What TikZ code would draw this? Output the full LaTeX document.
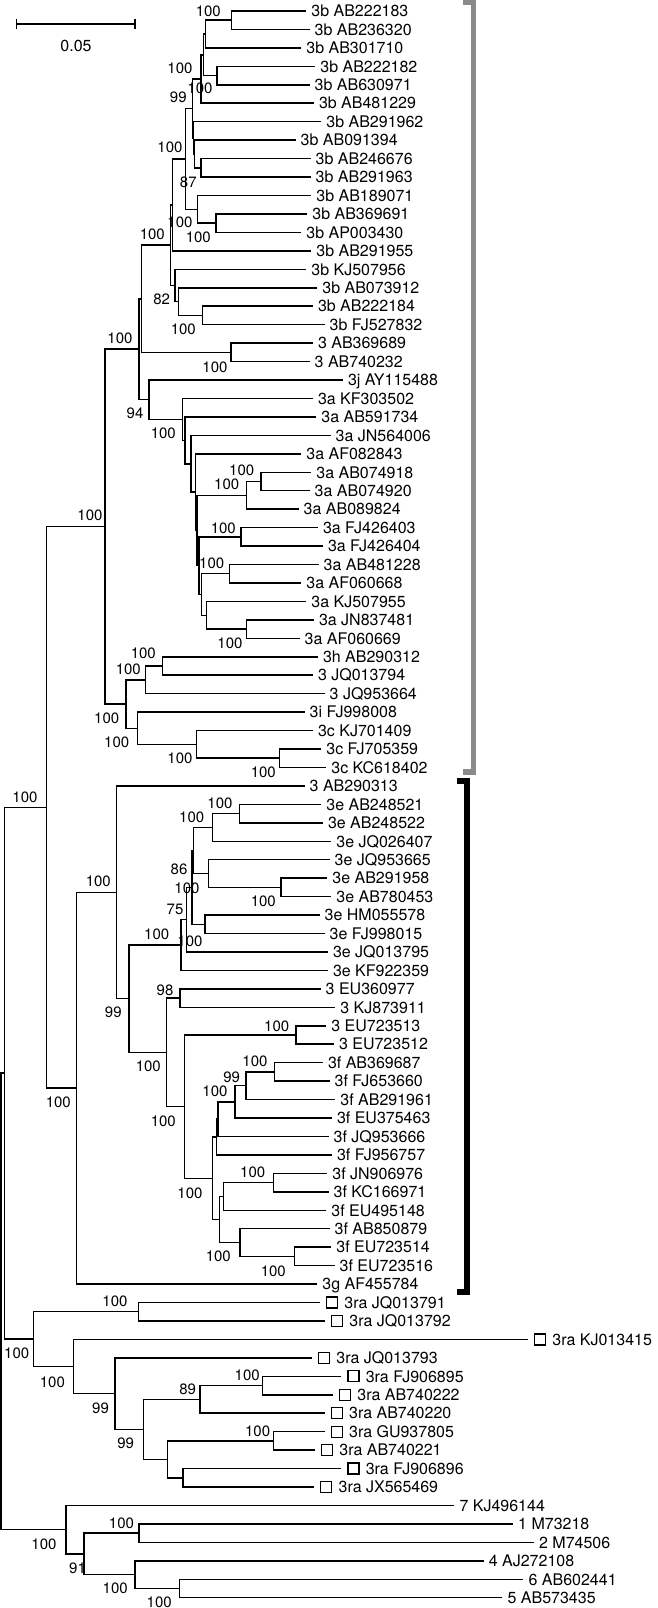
\documentclass[tikz,border=0pt]{standalone}
\usepackage{fontspec}
\setmainfont{TeX Gyre Heros}
\setsansfont{TeX Gyre Heros}
\usepackage{tikz}
\usetikzlibrary{positioning}
\definecolor{cladegrey}{HTML}{8A8A8A}

\begin{document}
\begin{tikzpicture}[x=1pt,y=-1pt,font=\sffamily,
  branch/.style={line width=1.5pt},
  taxon/.style={anchor=west,inner xsep=5pt,inner ysep=0pt,text height=11.5pt,text depth=0pt,font=\sffamily\fontsize{16}{16}\selectfont},
  boot/.style={inner sep=0pt,text height=10.8pt,text depth=0pt,font=\sffamily\fontsize{15}{15}\selectfont},
  rabox/.style={draw,line width=1.2pt,minimum size=11pt,inner sep=0pt}]
  \useasboundingbox (0,0) rectangle (657,1608);
  % scale bar
  \coordinate (sbL) at (16.7,24);
  \coordinate (sbR) at (135,24);
  \draw[branch] (sbL) -- (sbR);
  \draw[branch] ([yshift=5pt]sbL) -- ([yshift=-5pt]sbL);
  \draw[branch] ([yshift=5pt]sbR) -- ([yshift=-5pt]sbR);
  \node[boot,font=\sffamily\fontsize{16}{16}\selectfont] (sblab) at (76,46) {0.05};
  % internal nodes of the tree
  \foreach \n/\x/\y in {R0/1.2/1301.45, R1/4.5/1073.2, G3/46.7/807.4, ABC/105/526.6,
    AB/139/349.2, AA/141.7/298.75, X/170.7/245.2, W/172.3/204.9, S/185.7/158.9,
    T/192.3/108.4, Q3/201/79.0, Q2/203.3/54.8, Q1/205.7/34.05, N12/231.7/20.2,
    N45/217/75.6, U/193.3/137.85, V/194.3/154.0, N910/201/167.8, R/197.7/209.35,
    N1213/216/223.2, Y/175/285.45, Z/178.3/301.6, N1718/202.3/315.4, N1920/231/352.3,
    AC/149/399.7, AD/182.3/419.4, AE/185/440.3, AF/191/463.75, AG/195.5/492.15,
    AH/197/530.5, Nb28/246.7/495.3, N2627/261/481.5, AI/199/565.65, N2930/241/536.8,
    AJ/201.7/594.5, N3132/229.3/573.7, AK/206.7/615.25, N3435/246.7/629.1,
    HIC/126/704.0, Nc38/145.7/679.8, N3637/162.3/665.97, Nc42/137.7/728.25,
    Nd42/196.7/744.4, N4142/279.3/758.2,
    EFG/76.7/1088.2, EF/116.7/892.3, EF2/129/998.7, E/181/945.05, E1/186.7/919.7,
    E2/192/887.4, E2a/193.7/850.5, Ne46/212.3/827.4, N4445/239.5/813.6,
    Ne49/208.3/873.55, N4849/281/887.4, N5051/205/924.3,
    F1/166.7/1052.35, N5455/180/998.1, F2/184.3/1106.6, N5657/296/1035,
    F3/212.3/1178.25, F4b/216.7/1137.0, F4/218/1119.15, Nf61/235/1101.85,
    Nf60/246/1085.7, N5859/274.3/1071.9, F5/219.7/1219.5, F6/223.3/1196.4,
    N6465/273.3/1182.6, F7/240/1242.55, N6869/294.3/1256.4,
    RA/33.5/1339.1, N7172/138.3/1311.7, RA2/73.3/1366.5, RA3/115.2/1393.6,
    RA4/143.7/1429.3, RA5/199.8/1399.35, N7576/262.7/1385.5, RA6/167.6/1459.3,
    N7879/273.6/1440.9, N8081/183.1/1477.8,
    OG/66.2/1529.7, OG2/83.8/1553.9, N8384/139.1/1533.1, OG3/134.9/1574.65,
    N8687/179.3/1588.5}
    \coordinate (\n) at (\x,\y);
  % branches between internal nodes
  \foreach \a/\b in {R0/R1, R0/OG, R1/G3, R1/RA, G3/ABC, G3/EFG, ABC/AB, ABC/HIC,
    AB/AA, AB/AC, AA/X, AA/N1920, X/W, X/Y, W/S, S/T, S/R, T/Q3, T/U, Q3/Q2,
    Q2/Q1, Q2/N45, Q1/N12, U/V, V/N910, R/N1213, Y/Z, Z/N1718,
    AC/AD, AD/AE, AE/AF, AF/AG, AG/AH, AH/Nb28, AH/AI, Nb28/N2627, AI/N2930, AI/AJ,
    AJ/N3132, AJ/AK, AK/N3435, HIC/Nc38, HIC/Nc42, Nc38/N3637, Nc42/Nd42, Nd42/N4142,
    EFG/EF, EF/EF2, EF2/E, EF2/F1, E/E1, E1/E2, E2/E2a, E2/N5051, E2a/Ne46, E2a/Ne49,
    Ne46/N4445, Ne49/N4849, F1/N5455, F1/F2, F2/N5657, F2/F3, F3/F4b, F3/F5,
    F4b/F4, F4/Nf61, Nf61/Nf60, Nf60/N5859, F5/F6, F5/F7, F6/N6465, F7/N6869,
    RA/N7172, RA/RA2, RA2/RA3, RA3/RA4, RA4/RA5, RA4/RA6, RA5/N7576, RA6/N7879,
    RA6/N8081, OG/OG2, OG2/N8384, OG2/OG3, OG3/N8687}
    \draw[branch] (\a) |- (\b);
  % terminal branches and taxon names
  \foreach \i/\xe/\up/\txt in {1/306.2/N12/3b AB222183, 2/309.5/N12/3b AB236320,
    3/301.2/Q1/3b AB301710, 4/315.2/N45/3b AB222182, 5/309.5/N45/3b AB630971,
    6/313.8/Q3/3b AB481229, 7/321.2/U/3b AB291962, 8/295.5/V/3b AB091394,
    9/310.5/N910/3b AB246676, 10/310.5/N910/3b AB291963, 11/311.2/R/3b AB189071,
    12/307.2/N1213/3b AB369691, 13/301.2/N1213/3b AP003430, 14/311.2/W/3b AB291955,
    15/306.2/Y/3b KJ507956, 16/317.2/Z/3b AB073912, 17/312.8/N1718/3b AB222184,
    18/324.5/N1718/3b FJ527832, 19/312.8/N1920/3 AB369689, 20/309.5/N1920/3 AB740232,
    21/342.8/AC/3j AY115488, 22/312.8/AD/3a KF303502, 23/316.2/AE/3a AB591734,
    24/330.5/AF/3a JN564006, 25/301.2/AG/3a AF082843, 26/311.2/N2627/3a AB074918,
    27/309.5/N2627/3a AB074920, 28/298.5/Nb28/3a AB089824, 29/317.8/N2930/3a FJ426403,
    30/322.8/N2930/3a FJ426404, 31/318.5/N3132/3a AB481228, 32/301.2/N3132/3a AF060668,
    33/306.2/AK/3a KJ507955, 34/313.8/N3435/3a JN837481, 35/299.5/N3435/3a AF060669,
    36/317.8/N3637/3h AB290312, 37/312.8/N3637/3 JQ013794, 38/324.5/Nc38/3 JQ953664,
    39/304.5/Nc42/3i FJ998008, 40/312.8/Nd42/3c KJ701409, 41/321.2/N4142/3c FJ705359,
    42/326.2/N4142/3c KC618402, 43/304.5/EF/3 AB290313, 44/321.2/N4445/3e AB248521,
    45/322.8/N4445/3e AB248522, 46/331.2/Ne46/3e JQ026407, 47/329.5/Ne49/3e JQ953665,
    48/327.2/N4849/3e AB291958, 49/331.2/N4849/3e AB780453, 50/319.5/N5051/3e HM055578,
    51/324.5/N5051/3e FJ998015, 52/327.8/E1/3e JQ013795, 53/327.8/E/3e KF922359,
    54/320.5/N5455/3 EU360977, 55/335.2/N5455/3 KJ873911, 56/326.2/N5657/3 EU723513,
    57/333.8/N5657/3 EU723512, 58/322.8/N5859/3f AB369687, 59/329.5/N5859/3f FJ653660,
    60/335.2/Nf60/3f AB291961, 61/331.8/Nf61/3f EU375463, 62/328.5/F4/3f JQ953666,
    63/331.8/F4b/3f FJ956757, 64/327.2/N6465/3f JN906976, 65/328.5/N6465/3f KC166971,
    66/326.2/F6/3f EU495148, 67/329.5/F7/3f AB850879, 68/331.2/N6869/3f EU723514,
    69/334.5/N6869/3f EU723516, 70/317.2/EFG/3g AF455784,
    82/454.3/OG/7 KJ496144, 83/513/N8384/1 M73218, 84/533.9/N8384/2 M74506,
    85/483.6/OG3/4 AJ272108, 86/523.4/N8687/6 AB602441, 87/502.4/N8687/5 AB573435}
  {
    \coordinate (l\i) at (\xe,{11+(\i-1)*18.45});
    \draw[branch] (\up) |- (l\i);
    \node[taxon] (t\i) at (l\i) {\txt};
  }
  % 3ra strains, marked with open squares
  \foreach \i/\xe/\up/\txt in {71/320/N7172/3ra JQ013791, 72/325/N7172/3ra JQ013792,
    73/528/RA2/3ra KJ013415, 74/312/RA3/3ra JQ013793, 75/341.4/N7576/3ra FJ906895,
    76/333/N7576/3ra AB740222, 77/324.7/RA5/3ra AB740220, 78/324.7/N7879/3ra GU937805,
    79/315/N7879/3ra AB740221, 80/341.4/N8081/3ra FJ906896, 81/314.2/N8081/3ra JX565469}
  {
    \coordinate (l\i) at (\xe,{11+(\i-1)*18.45});
    \draw[branch] (\up) |- (l\i);
    \node[rabox,right=6pt of l\i] (b\i) {};
    \node[taxon,right=1pt of b\i] (t\i) {\txt};
  }
  % bootstrap values
  \foreach \x/\y/\v [count=\k] in {208.3/11/100, 180/68.3/100, 178.3/97.3/99,
    200/88.3/100, 170/146.7/100, 188.3/181.7/87, 180/221.7/100, 152.3/234.3/100,
    198.3/236.7/100, 161.7/299.3/82, 183.3/329.3/100, 120/338.3/100, 215/366.7/100,
    135/413.3/94, 163.3/433.3/100, 241.7/470/100, 226.7/484.3/100, 90/515/100,
    223.3/528/100, 211.7/562.7/100, 230/643.3/100, 143.3/653.3/100, 128.3/669.3/100,
    106.7/718.3/100, 116.7/742.3/100, 180/758.3/100, 263.3/771.7/100, 25/796.7/100,
    220/803.3/100, 191.7/816.7/100, 98.3/881/100, 179/869.3/86, 187/887.7/100,
    263.3/900.7/100, 175/909/75, 156.7/934/100, 190/940.7/100, 165/990/98,
    113.3/1011.7/99, 276.7/1026/100, 255/1060.7/100, 231.7/1076.7/99, 148.3/1066/100,
    215/1091/100, 58.3/1101.7/100, 163.3/1120.7/100, 252.7/1172.3/100, 190/1192.7/100,
    218.3/1256/100, 273.3/1270.7/100, 115/1301/100, 16.7/1353.3/100, 52.4/1381.7/100,
    100.5/1408.3/99, 247.2/1375/100, 187.7/1389.3/89, 257.6/1430.7/100, 125.7/1443.3/99,
    121.5/1522.7/100, 44/1544/100, 77.5/1567.7/91, 115.2/1588.3/100, 159.2/1601.7/100}
    \node[boot] (bs\k) at (\x,\y) {\v};
  % clade brackets
  \coordinate (g1) at (463,2.75);
  \coordinate (g2) at (473.7,772);
  \coordinate (g3) at (463,772);
  \draw[cladegrey,line width=5.5pt] (g1) -| (g2) -- (g3);
  \coordinate (k1) at (457,781);
  \coordinate (k2) at (467.2,1292);
  \coordinate (k3) at (457,1292);
  \draw[line width=5.5pt] (k1) -| (k2) -- (k3);
\end{tikzpicture}
\end{document}
